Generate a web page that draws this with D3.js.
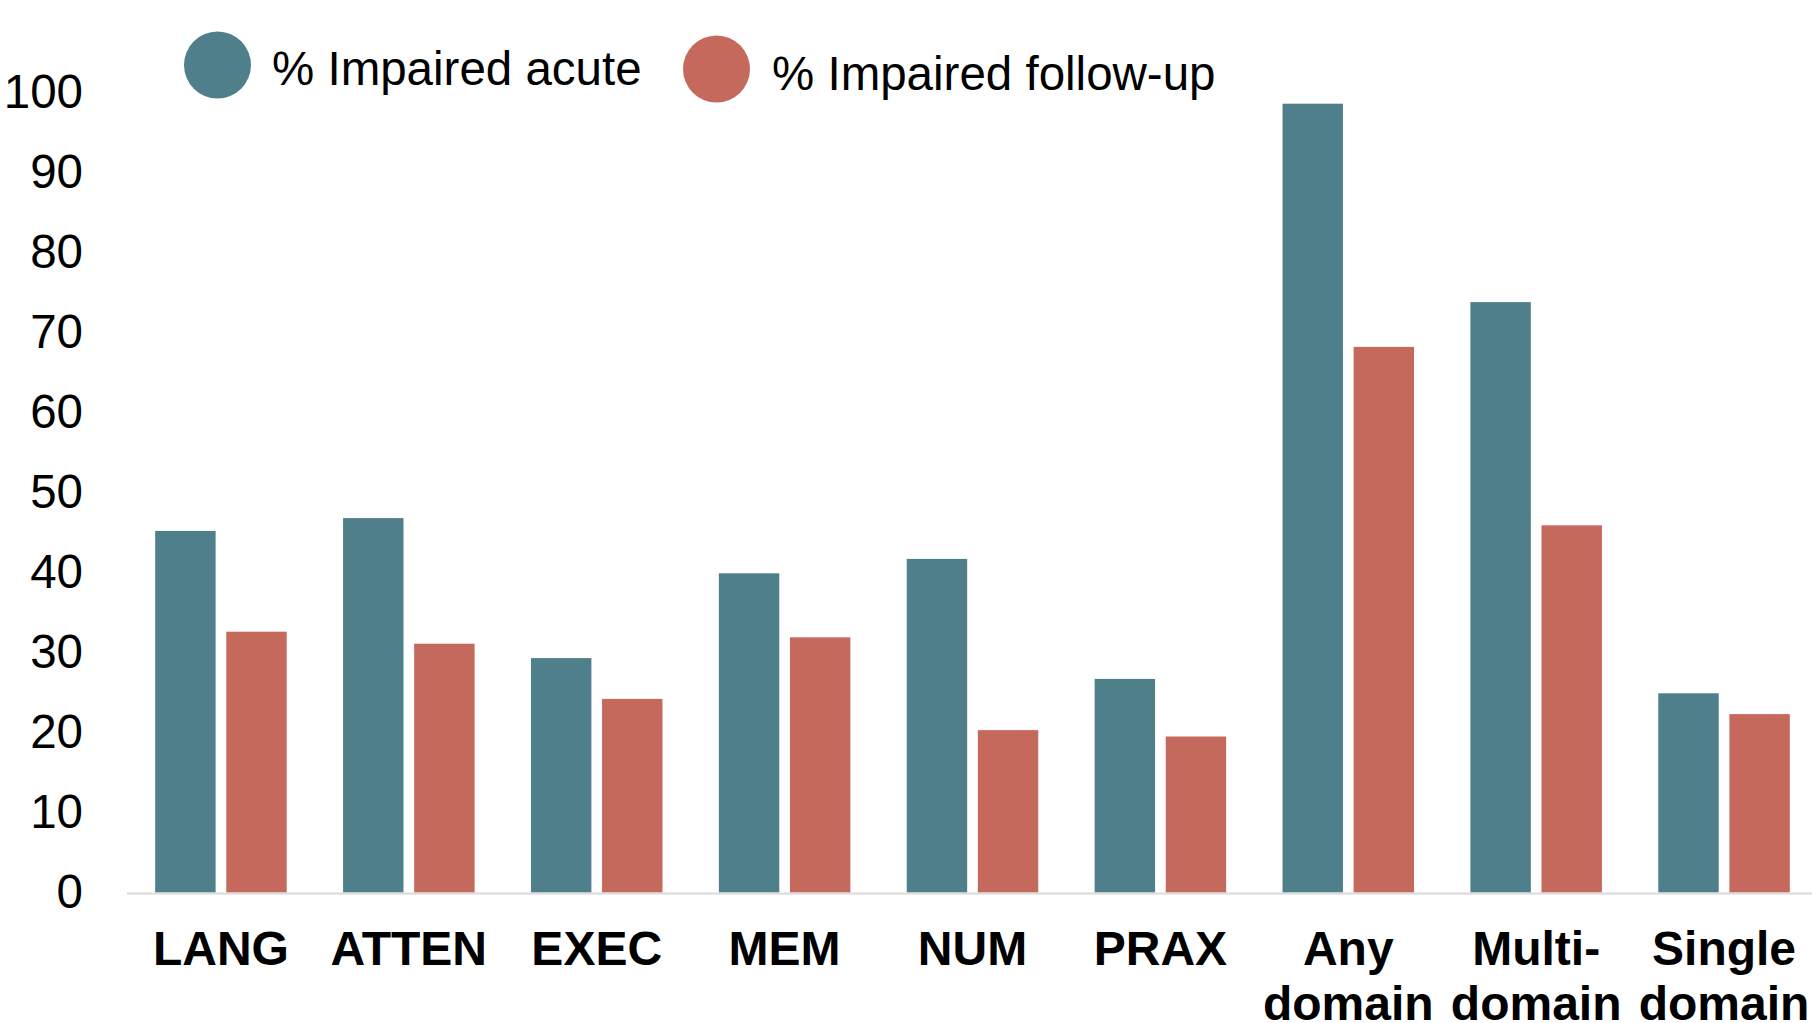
<!DOCTYPE html>
<html>
<head>
<meta charset="utf-8">
<script src="https://cdn.jsdelivr.net/npm/d3@7/dist/d3.min.js"></script>
<style>
  html, body { margin: 0; padding: 0; background: #ffffff; }
  svg { display: block; }
  text { font-family: "Liberation Sans", Arial, Helvetica, sans-serif; fill: #000; }
</style>
</head>
<body>
<svg id="chart" width="1812" height="1023"></svg>
<script>
// Cognitive domains, in display order
const categories = ["LANG", "ATTEN", "EXEC", "MEM", "NUM", "PRAX", "Any domain", "Multi-domain", "Single domain"];
// Axis label lines for each domain
const categoryLabels = [["LANG"], ["ATTEN"], ["EXEC"], ["MEM"], ["NUM"], ["PRAX"], ["Any", "domain"], ["Multi-", "domain"], ["Single", "domain"]];
// Percentage of patients impaired in each domain
const acute    = [45.2, 46.8, 29.3, 39.9, 41.7, 26.7, 98.6, 73.8, 24.9];
const followUp = [32.6, 31.1, 24.2, 31.9, 20.3, 19.5, 68.2, 45.9, 22.3];
const seriesNames = ["% Impaired acute", "% Impaired follow-up"];
const yTicks = [0, 10, 20, 30, 40, 50, 60, 70, 80, 90, 100];

const colors = ["#4e7f8b", "#c6695d"];
const svg = d3.select("#chart");

const rows = categories.map((c, i) => ({ cat: c, values: [acute[i], followUp[i]] }));

const x0 = d3.scaleBand().domain(categories).range([127, 1818]).paddingInner(0.3).paddingOuter(0.15);
const x1 = d3.scaleBand().domain([0, 1]).range([0, x0.bandwidth()]).paddingInner(0.15);
const y = d3.scaleLinear().domain([0, 100]).range([892.5, 92.5]);

// Y axis: labels only
const yAxis = svg.append("g")
  .attr("transform", "translate(127,0)")
  .call(d3.axisLeft(y).tickValues(yTicks).tickSize(0).tickPadding(44).tickFormat(d3.format("d")));
yAxis.select(".domain").remove();
yAxis.selectAll("text").style("font-size", "47.5px").attr("fill", "#000");

// Bars
const groups = svg.append("g").selectAll("g").data(rows).join("g")
  .attr("transform", d => `translate(${x0(d.cat)},0)`);
groups.selectAll("rect").data(d => d.values.map((v, k) => ({ k, v }))).join("rect")
  .attr("x", d => x1(d.k))
  .attr("width", x1.bandwidth())
  .attr("y", d => y(d.v))
  .attr("height", d => y(0) - y(d.v))
  .attr("fill", d => colors[d.k]);

// Baseline
svg.append("line")
  .attr("x1", 127).attr("x2", 1812)
  .attr("y1", y(0) + 1).attr("y2", y(0) + 1)
  .attr("stroke", "#d9d9d9").attr("stroke-width", 2);

// Category labels
const xl = svg.append("g").selectAll("text").data(categories).join("text")
  .attr("x", d => x0(d) + x0.bandwidth() / 2)
  .attr("y", 965)
  .attr("text-anchor", "middle")
  .style("font-size", "48px")
  .style("font-weight", "bold");
xl.selectAll("tspan").data((d, i) => categoryLabels[i]).join("tspan")
  .attr("x", function () { return this.parentNode.getAttribute("x"); })
  .attr("dy", (d, j) => j === 0 ? 0 : 55)
  .text(d => d);

// Legend
const legendItems = [
  { name: seriesNames[0], cx: 217.5, cy: 65, r: 33.5, tx: 272, ty: 85 },
  { name: seriesNames[1], cx: 716.5, cy: 69, r: 33.5, tx: 772, ty: 90 }
];
const lg = svg.append("g").selectAll("g").data(legendItems).join("g");
lg.append("circle").attr("cx", d => d.cx).attr("cy", d => d.cy).attr("r", d => d.r)
  .attr("fill", (d, i) => colors[i]);
lg.append("text").attr("x", d => d.tx).attr("y", d => d.ty)
  .style("font-size", "47.5px").text(d => d.name);
</script>
</body>
</html>
